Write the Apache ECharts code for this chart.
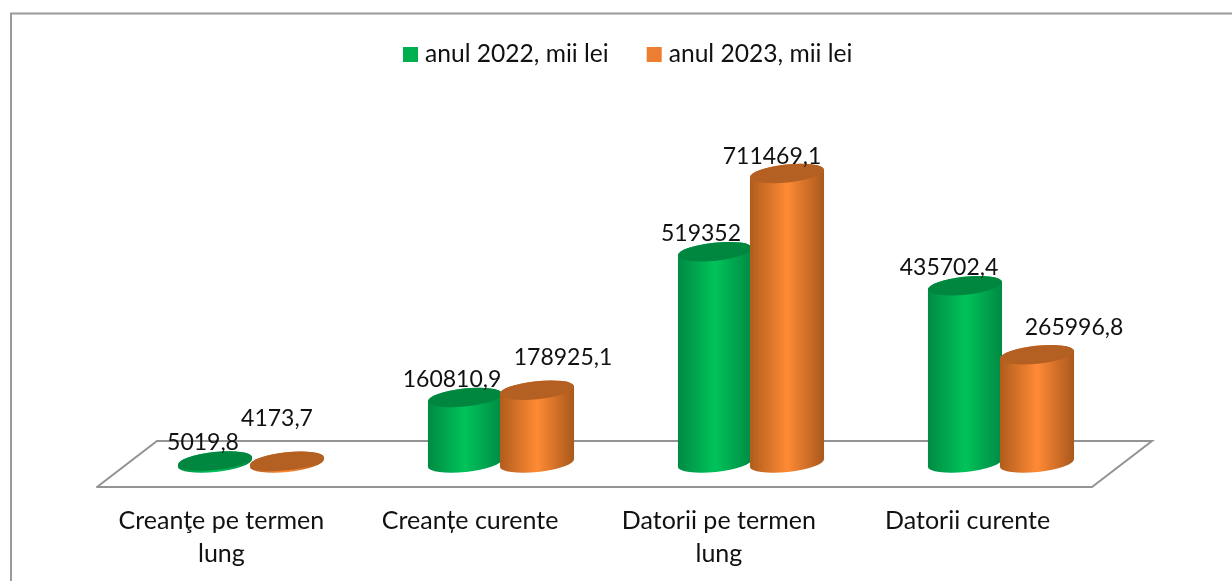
<!DOCTYPE html>
<html>
<head>
<meta charset="utf-8">
<title>Creante si datorii</title>
<script src="https://cdn.jsdelivr.net/npm/echarts@6/dist/echarts.min.js"></script>
<style>
  html, body { margin: 0; padding: 0; background: #fff; }
  #chart { width: 1232px; height: 581px; }
</style>
</head>
<body>
<div id="chart"></div>
<script>
const categories = ['Creanţe pe termen\nlung', 'Creanțe curente', 'Datorii pe termen\nlung', 'Datorii curente'];
const seriesNames = ['anul 2022, mii lei', 'anul 2023, mii lei'];
const values2022 = [5019.8, 160810.9, 519352, 435702.4];
const values2023 = [4173.7, 178925.1, 711469.1, 265996.8];

const FONT = 'Lato';

// labels were dragged by hand in the original, so each one has its own shift from the cylinder top
const labelShift = [
  [[-12, -18], [-10, -43]],
  [[-13, -18], [26, -33]],
  [[-14, -18], [-15, -17]],
  [[-16, -18], [37, -27]]
];

const looks = [
  { side: ['#008a43', '#00c35a', '#008a43'], top: '#00873f' },
  { side: ['#b05c1c', '#ff8a35', '#a9581c'], top: '#b56023' }
];

function renderCylinder(params, api) {
  const s = params.seriesIndex;
  const cat = api.value(0);
  const val = api.value(1);
  const band = api.size([1, 0])[0];
  const dx = (s === 0 ? -1 : 1) * band * 0.144;
  const rx = band * 0.149;
  const ry = 9;
  const tilt = -6;
  const rad = tilt * Math.PI / 180;
  const base = api.coord([cat, 0]);
  const top = api.coord([cat, val]);
  const cx = base[0] + dx;
  const ex = rx * Math.cos(rad), ey = rx * Math.sin(rad);
  const look = looks[s];
  const shift = labelShift[cat][s];

  const body = 'M' + (cx - ex) + ' ' + (top[1] - ey) +
    ' L' + (cx - ex) + ' ' + (base[1] - ey) +
    ' A' + rx + ' ' + ry + ' ' + tilt + ' 0 0 ' + (cx + ex) + ' ' + (base[1] + ey) +
    ' L' + (cx + ex) + ' ' + (top[1] + ey) +
    ' A' + rx + ' ' + ry + ' ' + tilt + ' 0 0 ' + (cx - ex) + ' ' + (top[1] - ey) + ' Z';
  const cap = 'M' + (cx - ex) + ' ' + (top[1] - ey) +
    ' A' + rx + ' ' + ry + ' ' + tilt + ' 0 0 ' + (cx + ex) + ' ' + (top[1] + ey) +
    ' A' + rx + ' ' + ry + ' ' + tilt + ' 0 0 ' + (cx - ex) + ' ' + (top[1] - ey) + ' Z';
  const grad = new echarts.graphic.LinearGradient(0, 0, 1, 0, [
    { offset: 0, color: look.side[0] },
    { offset: 0.5, color: look.side[1] },
    { offset: 1, color: look.side[2] }
  ]);

  return {
    type: 'group',
    children: [
      { type: 'path', shape: { pathData: body }, style: { fill: grad } },
      { type: 'path', shape: { pathData: cap }, style: { fill: look.top } },
      {
        type: 'text',
        z2: 10,
        style: {
          text: String(val).replace('.', ','),
          x: cx + shift[0],
          y: top[1] + shift[1],
          align: 'center',
          verticalAlign: 'middle',
          font: '23px ' + FONT,
          fill: '#111'
        }
      }
    ]
  };
}

function makeSeries(i, vals) {
  return {
    name: seriesNames[i],
    type: 'custom',
    renderItem: renderCylinder,
    xAxisIndex: 0,
    yAxisIndex: 0,
    itemStyle: { color: ['#00b050', '#ed7d31'][i] },
    encode: { x: 0, y: 1 },
    clip: false,
    data: vals.map((v, k) => [k, v])
  };
}

const chart = echarts.init(document.getElementById('chart'), null, { renderer: 'canvas' });
chart.setOption({
  animation: false,
  backgroundColor: '#fff',
  textStyle: { fontFamily: FONT },
  legend: {
    data: seriesNames,
    top: 37,
    left: 398,
    icon: 'rect',
    itemWidth: 15,
    itemHeight: 15,
    itemGap: 38,
    textStyle: { fontSize: 24.6, color: '#111', fontFamily: FONT, padding: [0, 0, 0, 2] }
  },
  grid: [
    { left: 126, right: 106, top: 137.5, bottom: 118 },
    { left: 97, right: 140, top: 441, bottom: 94 }
  ],
  xAxis: [
    { type: 'category', gridIndex: 0, data: categories, show: false },
    {
      type: 'category',
      gridIndex: 1,
      data: categories,
      axisLine: { lineStyle: { color: '#939393', width: 2 } },
      axisTick: { show: false },
      axisLabel: { interval: 0, margin: 17, fontSize: 25, color: '#111', lineHeight: 33, fontFamily: FONT }
    }
  ],
  yAxis: [
    { type: 'value', gridIndex: 0, min: 0, max: 800000, show: false },
    { type: 'value', gridIndex: 1, show: false }
  ],
  graphic: [
    { type: 'polyline', shape: { points: [[11, 600], [11, 13.5], [1240, 13.5]] }, style: { fill: 'none', stroke: '#9a9a9a', lineWidth: 2 }, silent: true },
    { type: 'polyline', shape: { points: [[97, 487], [157, 441], [1152, 441], [1092, 487]] }, style: { fill: 'none', stroke: '#939393', lineWidth: 2 }, silent: true }
  ],
  series: [makeSeries(0, values2022), makeSeries(1, values2023)]
});
</script>
</body>
</html>
